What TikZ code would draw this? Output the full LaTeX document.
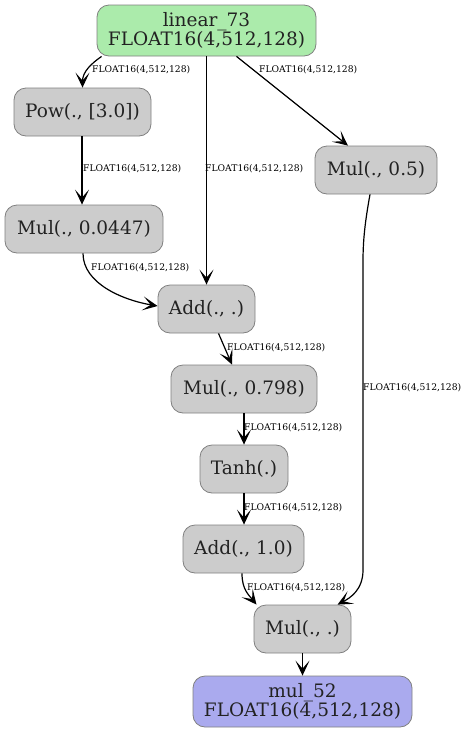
\documentclass[tikz,border=0pt]{standalone}
\usepackage{fontspec}
\setmainfont{DejaVu Serif}
\usetikzlibrary{arrows.meta,calc}
\definecolor{opfill}{HTML}{CCCCCC}
\definecolor{opdraw}{HTML}{808080}
\definecolor{infill}{HTML}{ABEBAB}
\definecolor{outfill}{HTML}{AAAAEE}
\definecolor{txt}{HTML}{222222}
\tikzset{
  opbox/.style={draw=opdraw, fill=opfill, rounded corners=12pt, line width=0.8pt,
    minimum height=48pt, inner sep=0pt, text=txt,
    font=\fontsize{18.5pt}{19.5pt}\selectfont, align=center},
  iobox/.style={opbox, minimum height=51pt},
  lbl/.style={font=\fontsize{9.2pt}{10pt}\selectfont, inner sep=0pt, anchor=west},
  conn/.style={line width=1.2pt, -{Stealth[length=15pt,width=14pt,inset=8pt]}}
}
\begin{document}
\begin{tikzpicture}[x=1pt,y=-1pt]
\useasboundingbox (0,0) rectangle (469,732);
\node[iobox, fill=infill, minimum width=219pt] (lin) at (206.5,30.5) {linear\_73\\FLOAT16(4,512,128)};
\node[opbox, minimum width=137pt] (pow) at (82.5,112) {Pow(., [3.0])};
\node[opbox, minimum width=122pt] (mulhalf) at (376,170) {Mul(., 0.5)};
\node[opbox, minimum width=158pt] (mulc) at (84,229) {Mul(., 0.0447)};
\node[opbox, minimum width=97pt] (add) at (206.5,309) {Add(., .)};
\node[opbox, minimum width=146pt] (mulk) at (244,389) {Mul(., 0.798)};
\node[opbox, minimum width=88pt] (tanh) at (244,469) {Tanh(.)};
\node[opbox, minimum width=121pt] (addone) at (243.5,549) {Add(., 1.0)};
\node[opbox, minimum width=97pt] (mul) at (302.5,629) {Mul(., .)};
\node[iobox, fill=outfill, minimum width=219pt] (out) at (302.5,701.5) {mul\_52\\FLOAT16(4,512,128)};

\draw[conn] ([xshift=5pt]lin.south west) .. controls +(-10,7) and +(0,-16) .. (pow.north);
\draw[conn] (lin.south) -- (add.north);
\draw[conn] ([xshift=30pt]lin.south) -- ([xshift=-28pt]mulhalf.north);
\draw[conn] ([xshift=-0.5pt]pow.south) -- ([xshift=-2pt]mulc.north);
\draw[conn] ([xshift=-1pt]mulc.south) .. controls +(0,30) and +(-35,-6) .. ([yshift=3pt]add.west);
\draw[conn] ([xshift=-6pt]mulhalf.south) .. controls (365,222) and (363,240) .. (363,262) -- (363,570) .. controls (363,590) and (350,598) .. ([xshift=35pt]mul.north);
\draw[conn] ([xshift=12pt]add.south) -- ([xshift=-12pt]mulk.north);
\draw[conn] (mulk.south) -- (tanh.north);
\draw[conn] ([xshift=0.5pt]addone.north |- tanh.south) -- ([xshift=0.5pt]addone.north);
\draw[conn] ([xshift=-1.5pt]addone.south) .. controls +(0,16) and +(-8,-10) .. ([xshift=-46pt]mul.north);
\draw[conn] (mul.south) -- (out.north);

\node[lbl] (l1) at (92,70) {FLOAT16(4,512,128)};
\node[lbl] (l2) at (259,70) {FLOAT16(4,512,128)};
\node[lbl] (l3) at (205,169) {FLOAT16(4,512,128)};
\node[lbl] (l4) at (83,169) {FLOAT16(4,512,128)};
\node[lbl] (l5) at (91,268) {FLOAT16(4,512,128)};
\node[lbl] (l6) at (227,348) {FLOAT16(4,512,128)};
\node[lbl] (l7) at (363,388) {FLOAT16(4,512,128)};
\node[lbl] (l8) at (244,428) {FLOAT16(4,512,128)};
\node[lbl] (l9) at (244,508) {FLOAT16(4,512,128)};
\node[lbl] (l10) at (247,588) {FLOAT16(4,512,128)};
\end{tikzpicture}
\end{document}
